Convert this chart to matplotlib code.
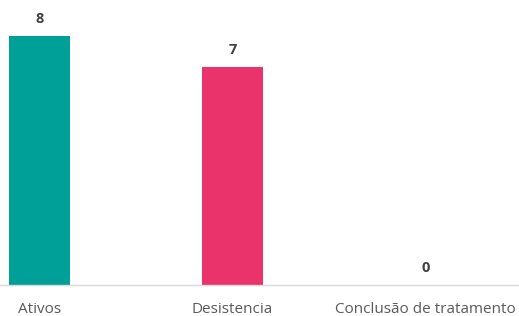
import matplotlib
matplotlib.use("Agg")
from matplotlib import pyplot as plt

# chart data
categories = ["Ativos", "Desistencia", "Conclusão de tratamento"]
values = [8, 7, 0]
colors = ["#00A099", "#EA336B", "#7F7F7F"]

plt.rcParams['font.family'] = ['Open Sans', 'DejaVu Sans']

fig = plt.figure(figsize=(5.19, 3.16), dpi=100)
ax = fig.add_axes([0, 0.098, 1, 0.902])

x = range(len(categories))
bars = ax.bar(x, values, width=0.316, color=colors, zorder=2)

for xi, v in zip(x, values):
    ax.annotate(str(v), (xi, v), xytext=(0, 7), textcoords="offset points",
                ha="center", va="bottom", fontsize=10.5, fontweight="bold", color="#404040")

ax.set_xlim(-0.2047, 2.484)
ax.set_ylim(0, 9.157)
ax.set_xticks(list(x))
ax.set_xticklabels(categories, fontsize=11, color="#595959")
ax.tick_params(axis="x", length=0, pad=12)
ax.set_yticks([])
for s in ["top", "right", "left"]:
    ax.spines[s].set_visible(False)
ax.spines["bottom"].set_color("#D9D9D9")
ax.spines["bottom"].set_linewidth(1)

fig.savefig("out.png", dpi=100)
